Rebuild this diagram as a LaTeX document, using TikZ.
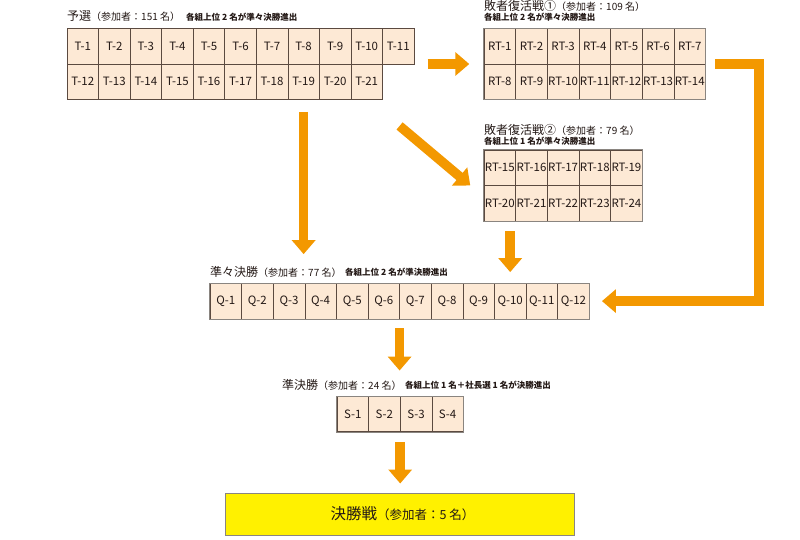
\documentclass[tikz,border=0pt]{standalone}
\usepackage{fontspec}
\setmainfont{Noto Sans CJK JP}
\usetikzlibrary{positioning,arrows.meta,calc,fit}
\definecolor{floworange}{HTML}{F39800}
\definecolor{cellfill}{HTML}{FDE9D5}
\definecolor{cellline}{HTML}{5B4A40}
\definecolor{frameline}{HTML}{8A8580}
\definecolor{finalfill}{HTML}{FFF100}
\definecolor{inktext}{HTML}{231815}
\newcommand{\roundhead}[2]{{\fontsize{12}{14}\selectfont #1}{\fontsize{10}{12}\selectfont #2}}
\newcommand{\roundnote}[1]{{\fontsize{8.5}{10}\selectfont\bfseries #1}}

\begin{document}
\begin{tikzpicture}[x=1pt, y=-1pt,
    cell/.style={draw=cellline, fill=cellfill, line width=0.6pt, minimum width=31.6pt,
        minimum height=35.4pt, inner sep=0pt, font=\fontsize{11.5}{13}\selectfont, text=inktext},
    groupframe/.style={draw=frameline, line width=0.9pt, inner sep=0pt},
    hiddenframe/.style={inner sep=0pt},
    title/.style={anchor=west, inner sep=0pt, text=inktext},
    finalbox/.style={draw=frameline, line width=1pt, fill=finalfill, minimum width=349pt,
        minimum height=42pt, inner sep=0pt, text=inktext},
    flow/.style={line width=9.5pt, draw=floworange, -{Triangle[width=23pt,length=14pt]}}
]
\useasboundingbox (0,0) rectangle (800,539);

% Preliminary round: 11 + 10 groups
\foreach \i in {1,...,11}
  \node[cell] (t\i) at ({67+(\i-0.5)*31.55}, 46.25) {T-\i};
\foreach \i in {12,...,21}
  \node[cell] (t\i) at ({67+(\i-11.5)*31.55}, 81.75) {T-\i};
\node[hiddenframe, fit=(t1)(t11)(t21)] (tframe) {};
\node[title] (ttitle) at (67,16) {\roundhead{予選}{（参加者：151 名）}};
\node[title] (tnote) at (186,17) {\roundnote{各組上位 2 名が準々決勝進出}};

% Repechage 1
\foreach \i in {1,...,7}
  \node[cell] (rt\i) at ({484+(\i-0.5)*31.65}, 46.25) {RT-\i};
\foreach \i in {8,...,14}
  \node[cell] (rt\i) at ({484+(\i-7.5)*31.65}, 81.75) {RT-\i};
\node[groupframe, fit=(rt1)(rt14)] (rtoneframe) {};
\node[title] (rtonetitle) at (484,6) {\roundhead{敗者復活戦①}{（参加者：109 名）}};
\node[title] (rtonenote) at (484,17.5) {\roundnote{各組上位 2 名が準々決勝進出}};

% Repechage 2
\foreach \i in {15,...,19}
  \node[cell] (rt\i) at ({484+(\i-14.5)*31.65}, 167.75) {RT-\i};
\foreach \i in {20,...,24}
  \node[cell] (rt\i) at ({484+(\i-19.5)*31.65}, 203.25) {RT-\i};
\node[groupframe, fit=(rt15)(rt24)] (rttwoframe) {};
\node[title] (rttwotitle) at (484,130) {\roundhead{敗者復活戦②}{（参加者：79 名）}};
\node[title] (rttwonote) at (484,141.5) {\roundnote{各組上位 1 名が準々決勝進出}};

% Quarter finals
\foreach \i in {1,...,12}
  \node[cell] (q\i) at ({210+(\i-0.5)*31.6}, 301.1) {Q-\i};
\node[groupframe, fit=(q1)(q12)] (qframe) {};
\node[title] (qtitle) at (210,272) {\roundhead{準々決勝}{（参加者：77 名）}};
\node[title] (qnote) at (345,272.5) {\roundnote{各組上位 2 名が準決勝進出}};

% Semi finals
\foreach \i in {1,...,4}
  \node[cell] (s\i) at ({337+(\i-0.5)*31.6}, 414) {S-\i};
\node[groupframe, fit=(s1)(s4)] (sframe) {};
\node[title] (stitle) at (282,385) {\roundhead{準決勝}{（参加者：24 名）}};
\node[title] (snote) at (405,385.5) {\roundnote{各組上位 1 名＋社長選 1 名が決勝進出}};

% Final
\node[finalbox] (final) at (399.5,514) {%
  \hspace*{6pt}{\fontsize{15.5}{17}\selectfont 決勝戦}{\fontsize{12.5}{14}\selectfont （参加者：5 名）}};

% Advancement arrows
\draw[flow, shorten <=13pt, shorten >=14pt] (tframe.east) -- (rtoneframe.west);
\draw[flow, shorten <=12pt, shorten >=28.5pt] (t19.south) -- (t19.south |- qframe.north);
\draw[flow] ($(tframe.south east)+(-15,26)$) -- ($(rttwoframe.west)+(-13,0)$);
\draw[flow, shorten <=9.5pt, shorten >=11pt] (q10.north |- rttwoframe.south) -- (q10.north);
\draw[flow, shorten <=8.5pt, shorten >=12pt] (rtoneframe.east) -- ++(52.5,0) |- (qframe.east);
\draw[flow, shorten <=8.5pt, shorten >=25pt] (qframe.south) -- (qframe.south |- sframe.north);
\draw[flow, shorten <=9.5pt, shorten >=9pt] (sframe.south) -- (sframe.south |- final.north);
\end{tikzpicture}
\end{document}
